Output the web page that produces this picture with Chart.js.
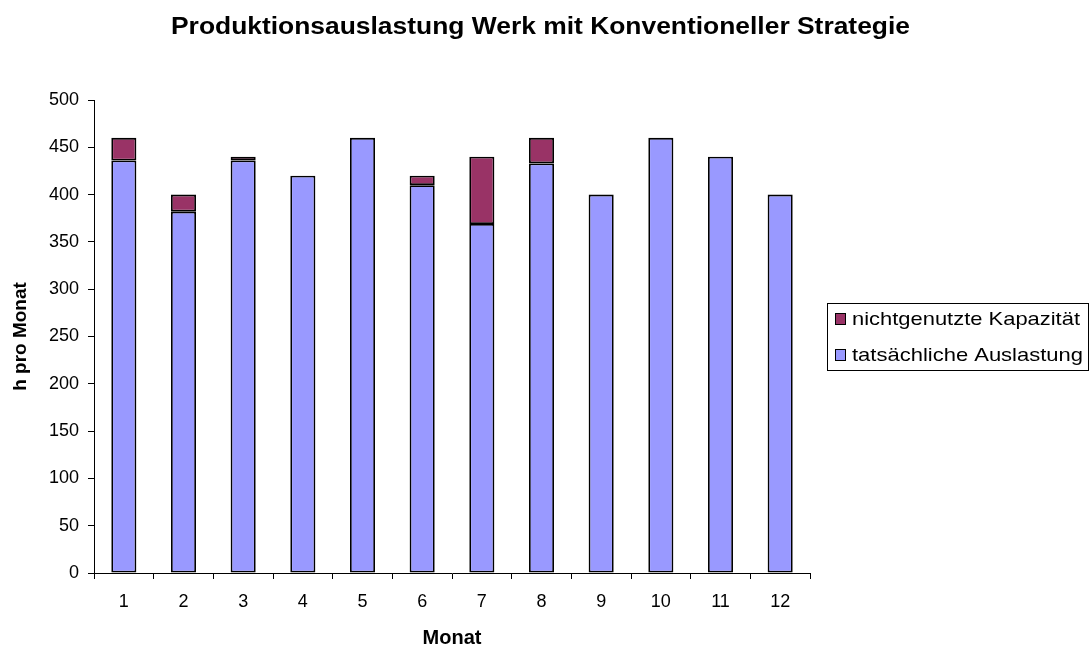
<!DOCTYPE html>
<html>
<head>
<meta charset="utf-8">
<script src="https://cdn.jsdelivr.net/npm/chart.js@4/dist/chart.umd.min.js"></script>
<style>
html,body{margin:0;padding:0;background:#fff;}
#wrap{width:1092px;height:650px;}
</style>
</head>
<body>
<div id="wrap"><canvas id="c" width="1092" height="650"></canvas></div>
<script>
const categories = ['1','2','3','4','5','6','7','8','9','10','11','12'];
const actualLoad = [436, 382, 436, 420, 460, 410, 369, 433, 400, 460, 440, 400];
const unusedCapacity = [24, 18, 4, 0, 0, 10, 71, 27, 0, 0, 0, 0];
const seriesLabels = ['tatsächliche Auslastung', 'nichtgenutzte Kapazität'];
const yTicks = [0, 50, 100, 150, 200, 250, 300, 350, 400, 450, 500];
const chartTitle = 'Produktionsauslastung Werk mit Konventioneller Strategie';

const FONT = "'Liberation Sans', Arial, sans-serif";

function stretchedText(ctx, text, x, y, targetWidth, align) {
  const w = ctx.measureText(text).width;
  const sx = targetWidth / w;
  ctx.save();
  ctx.translate(x, y);
  ctx.scale(sx, 1);
  ctx.textAlign = align;
  ctx.fillText(text, 0, 0);
  ctx.restore();
}

const decorPlugin = {
  id: 'decor',
  afterDraw(chart) {
    const ctx = chart.ctx;
    ctx.save();
    ctx.fillStyle = '#000';
    ctx.font = 'bold 23px ' + FONT;
    ctx.textBaseline = 'alphabetic';
    stretchedText(ctx, chartTitle, 540.5, 34, 739, 'center');

    const x0 = 827, y0 = 303, w = 261, h = 67;
    ctx.strokeStyle = '#000';
    ctx.lineWidth = 1;
    ctx.strokeRect(x0 + 0.5, y0 + 0.5, w, h);
    const items = [chart.data.datasets[1], chart.data.datasets[0]];
    ctx.font = '19px ' + FONT;
    ctx.textBaseline = 'middle';
    items.forEach((ds, i) => {
      const cy = 319 + i * 36;
      ctx.fillStyle = ds.backgroundColor;
      ctx.fillRect(835, cy - 6, 11, 12);
      ctx.strokeStyle = '#000';
      ctx.lineWidth = 1;
      ctx.strokeRect(835.5, cy - 5.5, 10, 11);
      ctx.fillStyle = '#000';
      stretchedText(ctx, ds.label, 852, cy + 1, i === 0 ? 228 : 231, 'left');
    });
    ctx.restore();
  }
};

const bw = c => (c.raw === 0 ? 0 : 1.8);

new Chart(document.getElementById('c'), {
  type: 'bar',
  data: {
    labels: categories,
    datasets: [
      { label: seriesLabels[0], data: actualLoad, backgroundColor: '#9999FF', borderColor: '#000', borderWidth: bw, borderSkipped: false, stack: 's', barPercentage: 0.42, categoryPercentage: 1 },
      { label: seriesLabels[1], data: unusedCapacity, backgroundColor: '#993366', borderColor: '#000', borderWidth: bw, borderSkipped: false, stack: 's', barPercentage: 0.42, categoryPercentage: 1 }
    ]
  },
  options: {
    responsive: false,
    animation: false,
    layout: { padding: { left: 0, right: 282, top: 100, bottom: 0 } },
    plugins: {
      legend: { display: false },
      tooltip: { enabled: false },
      title: { display: false }
    },
    scales: {
      x: {
        stacked: true,
        border: { color: '#000', width: 1 },
        grid: { display: true, drawOnChartArea: false, color: '#000', tickLength: 6, offset: true },
        ticks: { color: '#000', font: { family: FONT, size: 18 }, padding: 12 },
        title: { display: true, text: 'Monat', color: '#000', font: { family: FONT, size: 20, weight: 'bold' }, padding: { top: 0, bottom: 0 } },
        afterFit(s) { s.height = 77; }
      },
      y: {
        stacked: true,
        min: 0,
        max: 500,
        border: { color: '#000', width: 1 },
        grid: { display: true, drawOnChartArea: false, color: '#000', tickLength: 6 },
        afterBuildTicks(s) { s.ticks = yTicks.map(v => ({ value: v })); },
        ticks: { color: '#000', font: { family: FONT, size: 18 }, padding: 9 },
        title: { display: true, text: 'h pro Monat', color: '#000', font: { family: FONT, size: 19, weight: 'bold' }, padding: { top: 9, bottom: 0 } },
        afterFit(s) { s.width = 94; }
      }
    }
  },
  plugins: [decorPlugin]
});
</script>
</body>
</html>
